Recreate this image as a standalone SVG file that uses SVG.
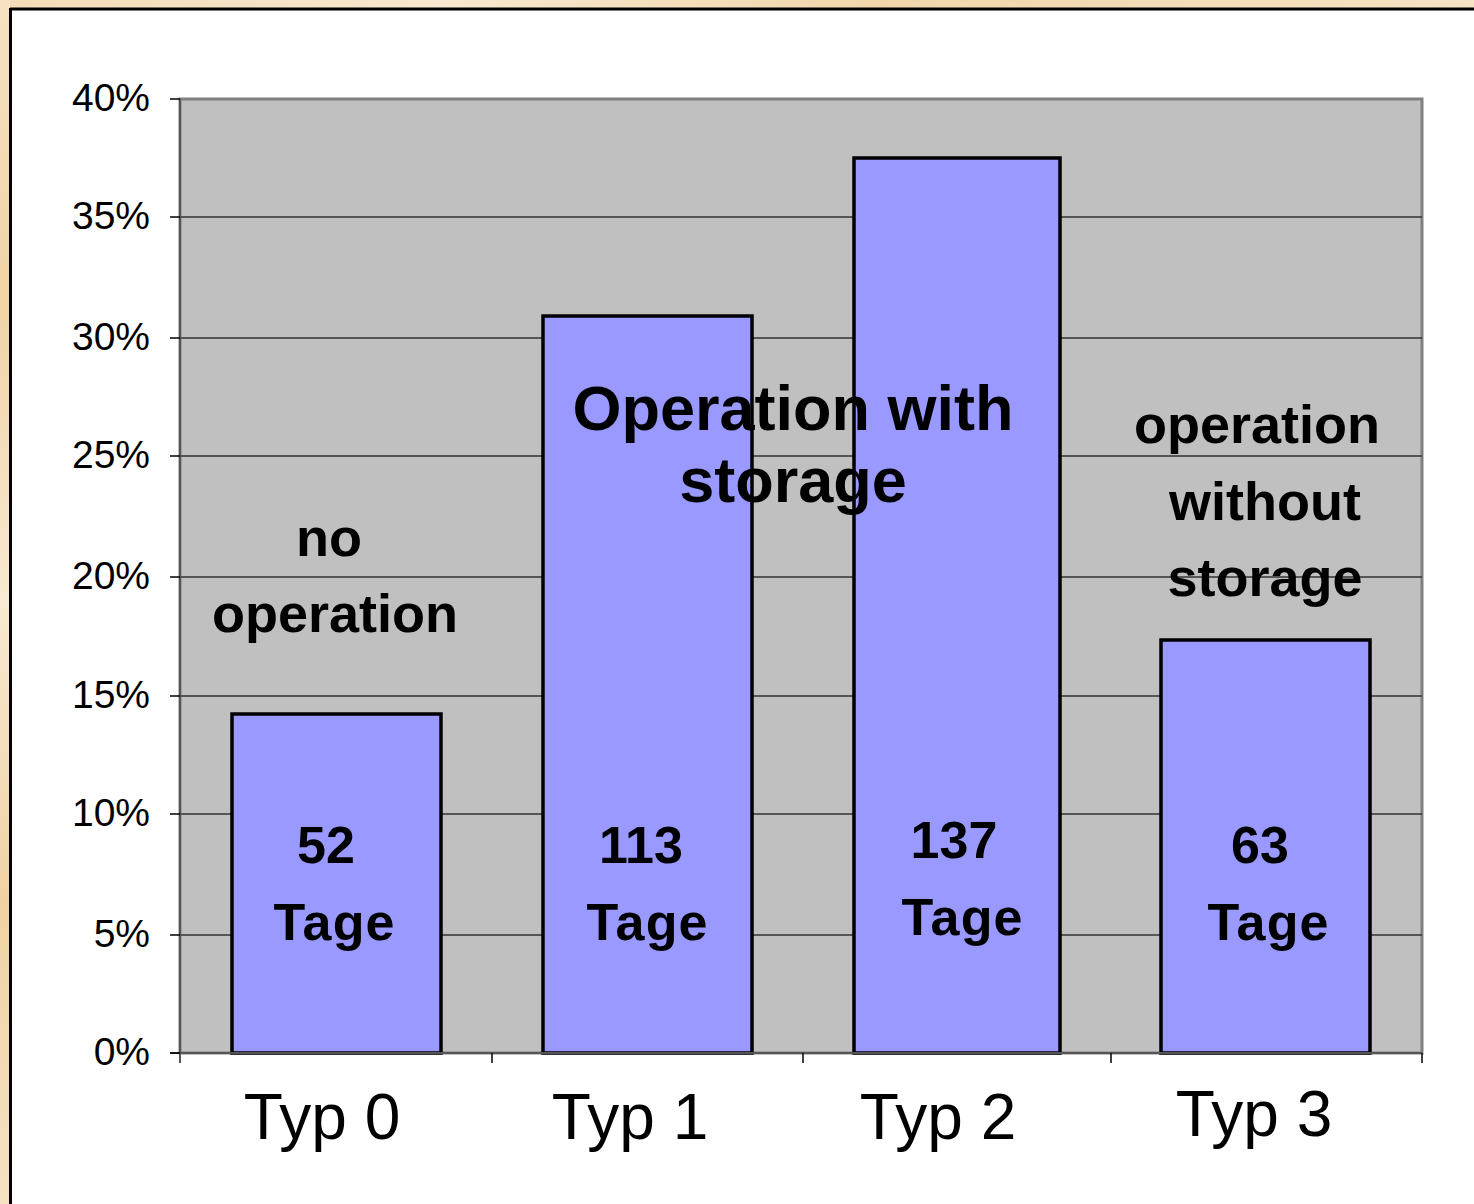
<svg xmlns="http://www.w3.org/2000/svg" width="1474" height="1204" viewBox="0 0 1474 1204">
  <defs>
    <linearGradient id="paper" x1="0" y1="0" x2="1" y2="0">
      <stop offset="0" stop-color="#f3dcb8"/>
      <stop offset="0.3" stop-color="#f8e8cf"/>
      <stop offset="0.6" stop-color="#f1d6ac"/>
      <stop offset="1" stop-color="#f6e3c4"/>
    </linearGradient>
    <linearGradient id="paperV" x1="0" y1="0" x2="0" y2="1">
      <stop offset="0" stop-color="#f6e2c2"/>
      <stop offset="0.25" stop-color="#f0d3a6"/>
      <stop offset="0.5" stop-color="#f8e9d2"/>
      <stop offset="0.75" stop-color="#efd2a4"/>
      <stop offset="1" stop-color="#f5e2c3"/>
    </linearGradient>
  </defs>
  <style>
    .ylab { font-family: "Liberation Sans", Arial, sans-serif; font-size: 39px; fill: #000; text-anchor: end; }
    .xlab { font-family: "Liberation Sans", Arial, sans-serif; font-size: 64px; fill: #000; text-anchor: middle; }
    .note { font-family: "Liberation Sans", Arial, sans-serif; font-weight: bold; font-size: 54px; fill: #000; text-anchor: middle; }
    .big { font-family: "Liberation Sans", Arial, sans-serif; font-weight: bold; font-size: 63px; fill: #000; text-anchor: middle; }
    .val { font-family: "Liberation Sans", Arial, sans-serif; font-weight: bold; font-size: 52px; fill: #000; text-anchor: middle; }
    .grid { stroke: #333; stroke-width: 1.5; }
    .tick { stroke: #000; stroke-width: 1.5; }
    .bar { fill: #9999ff; stroke: #000; stroke-width: 3.5; }
  </style>

  <!-- paper background and white chart panel -->
  <rect x="0" y="0" width="1474" height="1204" fill="url(#paper)"/>
  <rect x="0" y="0" width="10" height="1204" fill="url(#paperV)"/>
  <rect x="10" y="8" width="1464" height="1196" fill="#fff"/>
  <line x1="10" y1="9" x2="1474" y2="9" stroke="#000" stroke-width="3"/>
  <line x1="10.5" y1="8" x2="10.5" y2="1204" stroke="#000" stroke-width="3"/>

  <!-- plot area -->
  <rect x="180" y="99" width="1242" height="954" fill="#c0c0c0" stroke="#808080" stroke-width="3"/>

  <!-- gridlines -->
  <g id="gridlines">
    <line class="grid" x1="180" y1="217" x2="1422" y2="217"/>
    <line class="grid" x1="180" y1="338" x2="1422" y2="338"/>
    <line class="grid" x1="180" y1="456" x2="1422" y2="456"/>
    <line class="grid" x1="180" y1="577" x2="1422" y2="577"/>
    <line class="grid" x1="180" y1="696" x2="1422" y2="696"/>
    <line class="grid" x1="180" y1="814" x2="1422" y2="814"/>
    <line class="grid" x1="180" y1="935" x2="1422" y2="935"/>
  </g>

  <!-- bars -->
  <g id="bar-typ0"><rect class="bar" x="232" y="714" width="209" height="339"/></g>
  <g id="bar-typ1"><rect class="bar" x="543" y="316" width="209" height="737"/></g>
  <g id="bar-typ2"><rect class="bar" x="854" y="158" width="206" height="895"/></g>
  <g id="bar-typ3"><rect class="bar" x="1161" y="640" width="209" height="413"/></g>

  <!-- axes and ticks -->
  <g id="axes">
    <line x1="180" y1="99" x2="180" y2="1063" stroke="#555" stroke-width="2"/>
    <line x1="170" y1="1053" x2="1422" y2="1053" stroke="#555" stroke-width="2"/>
    <line class="tick" x1="170" y1="99" x2="180" y2="99"/>
    <line class="tick" x1="170" y1="217" x2="180" y2="217"/>
    <line class="tick" x1="170" y1="338" x2="180" y2="338"/>
    <line class="tick" x1="170" y1="456" x2="180" y2="456"/>
    <line class="tick" x1="170" y1="577" x2="180" y2="577"/>
    <line class="tick" x1="170" y1="696" x2="180" y2="696"/>
    <line class="tick" x1="170" y1="814" x2="180" y2="814"/>
    <line class="tick" x1="170" y1="935" x2="180" y2="935"/>
    <line class="tick" x1="170" y1="1053" x2="180" y2="1053"/>
    <line class="tick" x1="492" y1="1053" x2="492" y2="1063"/>
    <line class="tick" x1="803" y1="1053" x2="803" y2="1063"/>
    <line class="tick" x1="1111" y1="1053" x2="1111" y2="1063"/>
    <line class="tick" x1="1422" y1="1053" x2="1422" y2="1063"/>
  </g>

  <!-- value axis labels -->
  <g id="y-labels">
    <text class="ylab" x="150" y="111">40%</text>
    <text class="ylab" x="150" y="229">35%</text>
    <text class="ylab" x="150" y="350">30%</text>
    <text class="ylab" x="150" y="468">25%</text>
    <text class="ylab" x="150" y="589">20%</text>
    <text class="ylab" x="150" y="708">15%</text>
    <text class="ylab" x="150" y="826">10%</text>
    <text class="ylab" x="150" y="947">5%</text>
    <text class="ylab" x="150" y="1065">0%</text>
  </g>

  <!-- category labels -->
  <g id="x-labels">
    <text class="xlab" x="322" y="1139">Typ 0</text>
    <text class="xlab" x="630" y="1139">Typ 1</text>
    <text class="xlab" x="938" y="1139">Typ 2</text>
    <text class="xlab" x="1254" y="1136">Typ 3</text>
  </g>

  <!-- annotations -->
  <g id="label-no-operation">
    <text class="note" x="329" y="556">no</text>
    <text class="note" x="335" y="632">operation</text>
  </g>
  <g id="label-with-storage">
    <text class="big" x="793" y="430">Operation with</text>
    <text class="big" x="793" y="502">storage</text>
  </g>
  <g id="label-without-storage">
    <text class="note" x="1257" y="443">operation</text>
    <text class="note" x="1265" y="520">without</text>
    <text class="note" x="1265" y="596">storage</text>
  </g>

  <!-- day counts -->
  <g id="days-typ0">
    <text class="val" x="326" y="863">52</text>
    <text class="val" x="334" y="940" textLength="121" lengthAdjust="spacing">Tage</text>
  </g>
  <g id="days-typ1">
    <text class="val" x="641" y="863">113</text>
    <text class="val" x="647" y="940" textLength="121" lengthAdjust="spacing">Tage</text>
  </g>
  <g id="days-typ2">
    <text class="val" x="954" y="858">137</text>
    <text class="val" x="962" y="935" textLength="121" lengthAdjust="spacing">Tage</text>
  </g>
  <g id="days-typ3">
    <text class="val" x="1260" y="863">63</text>
    <text class="val" x="1268" y="940" textLength="121" lengthAdjust="spacing">Tage</text>
  </g>
</svg>
